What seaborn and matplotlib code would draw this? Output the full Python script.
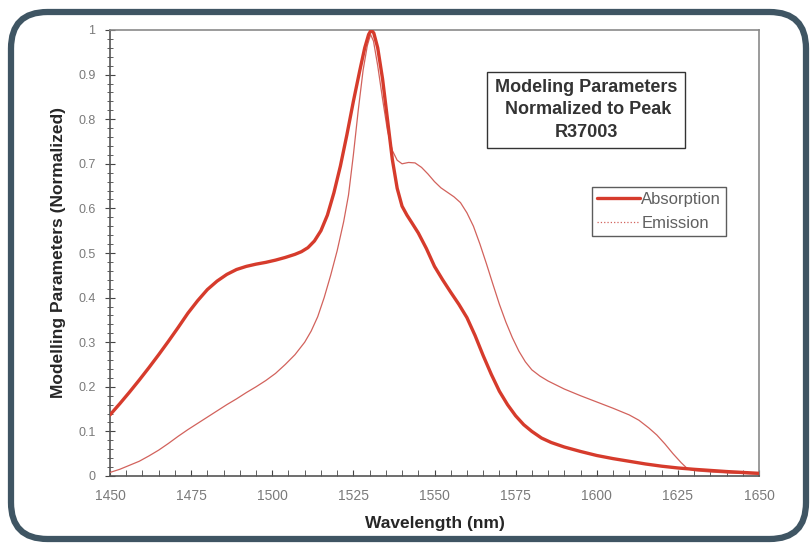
import matplotlib
matplotlib.use("Agg")
import matplotlib.pyplot as plt
from matplotlib.patches import FancyBboxPatch
from matplotlib.lines import Line2D
from matplotlib.ticker import MultipleLocator
import pandas as pd
import seaborn as sns

# absorption curve
abs_wl = [1450, 1453, 1456, 1459, 1462, 1465, 1468, 1471, 1474, 1477, 1480, 1483,
          1486, 1489, 1492, 1495, 1498, 1501, 1504, 1507, 1509, 1511, 1513, 1515,
          1517, 1519, 1521, 1523, 1525, 1527, 1528.5, 1529.7, 1530.5, 1531.3, 1532.5,
          1534, 1535.5, 1537, 1538.5, 1540, 1541.5, 1543, 1545, 1547.5, 1550, 1552.5,
          1555, 1557.5, 1560, 1562.5, 1565, 1567.5, 1570, 1572.5, 1575, 1577.5, 1580,
          1583, 1586, 1590, 1595, 1600, 1605, 1610, 1615, 1620, 1625, 1630, 1640, 1650]
abs_val = [0.137, 0.162, 0.188, 0.215, 0.243, 0.272, 0.302, 0.333, 0.365, 0.393, 0.418, 0.437,
           0.452, 0.463, 0.47, 0.475, 0.479, 0.484, 0.49, 0.497, 0.503, 0.512, 0.527, 0.55,
           0.585, 0.635, 0.695, 0.765, 0.84, 0.91, 0.96, 0.99, 1.0, 0.993, 0.96,
           0.89, 0.80, 0.71, 0.645, 0.605, 0.585, 0.568, 0.545, 0.51, 0.47, 0.44,
           0.412, 0.385, 0.355, 0.315, 0.27, 0.228, 0.19, 0.16, 0.135, 0.115, 0.1,
           0.085, 0.075, 0.065, 0.055, 0.046, 0.039, 0.033, 0.027, 0.022, 0.018, 0.015, 0.01, 0.006]

# emission curve
emi_wl = [1450, 1453, 1456, 1459, 1462, 1465, 1468, 1471, 1474, 1477, 1480, 1483,
          1486, 1489, 1492, 1495, 1498, 1501, 1504, 1507, 1510, 1512, 1514, 1516,
          1518, 1520, 1522, 1523.5, 1525, 1526.5, 1528, 1529.3, 1530.3, 1531.2, 1532.5,
          1534, 1535.5, 1537, 1538.5, 1540, 1542, 1544, 1546, 1548, 1550, 1552, 1554,
          1556, 1558, 1560, 1562, 1564, 1566, 1568, 1570, 1572, 1574, 1576, 1578, 1580,
          1582.5, 1585, 1590, 1595, 1600, 1605, 1610, 1613, 1616, 1618.5, 1621, 1623.5,
          1626, 1628, 1630, 1635, 1640, 1650]
emi_val = [0.008, 0.015, 0.024, 0.033, 0.045, 0.058, 0.073, 0.089, 0.104, 0.118, 0.132, 0.146,
           0.16, 0.173, 0.187, 0.2, 0.214, 0.23, 0.25, 0.272, 0.3, 0.325, 0.357, 0.4,
           0.45, 0.505, 0.57, 0.63, 0.72, 0.82, 0.91, 0.965, 0.99, 0.975, 0.92,
           0.845, 0.775, 0.73, 0.708, 0.70, 0.703, 0.702, 0.692, 0.677, 0.66, 0.646, 0.636,
           0.626, 0.613, 0.59, 0.56, 0.52, 0.476, 0.43, 0.385, 0.345, 0.31, 0.28, 0.256, 0.238,
           0.224, 0.213, 0.195, 0.18, 0.166, 0.152, 0.137, 0.125, 0.108, 0.092, 0.072, 0.05,
           0.03, 0.016, 0.012, 0.009, 0.007, 0.004]

x_ticks = [1450, 1475, 1500, 1525, 1550, 1575, 1600, 1625, 1650]
y_ticks = [0, 0.1, 0.2, 0.3, 0.4, 0.5, 0.6, 0.7, 0.8, 0.9, 1]

abs_color = "#d63b2c"
emi_color = "#d2625c"

sns.set_style("white")
plt.rcParams['font.family'] = ['Liberation Sans', 'DejaVu Sans']

fig = plt.figure(figsize=(8.1, 5.43), dpi=100)
ax = fig.add_axes([110/810, 1 - 476/543, (759 - 110)/810, (476 - 30)/543])

df_abs = pd.DataFrame({"wl": abs_wl, "val": abs_val})
df_emi = pd.DataFrame({"wl": emi_wl, "val": emi_val})

sns.lineplot(data=df_emi, x="wl", y="val", ax=ax, color=emi_color, linewidth=0.9, zorder=3)
sns.lineplot(data=df_abs, x="wl", y="val", ax=ax, color=abs_color, linewidth=2.4, zorder=4)

ax.set_xlim(1450, 1650)
ax.set_ylim(0, 1)
ax.set_xticks(x_ticks)
ax.set_yticks(y_ticks)
ax.set_yticklabels([f"{t:g}" for t in y_ticks])
ax.xaxis.set_minor_locator(MultipleLocator(5))
ax.yaxis.set_minor_locator(MultipleLocator(0.02))
ax.tick_params(axis="x", which="both", direction="in", bottom=True, length=4,
               color="#444444", labelsize=10, labelcolor="#7a7a7a", pad=9)
ax.tick_params(axis="y", which="major", direction="inout", left=True, length=7,
               color="#444444", labelsize=9, labelcolor="#7a7a7a", pad=7)
ax.tick_params(axis="y", which="minor", direction="inout", left=True, length=4,
               color="#444444")
for side in ["top", "right"]:
    ax.spines[side].set_color("#8a8a8a")
    ax.spines[side].set_linewidth(1.2)
for side in ["left", "bottom"]:
    ax.spines[side].set_color("#555555")
    ax.spines[side].set_linewidth(1.2)

ax.set_xlabel("Wavelength (nm)", fontsize=12.5, fontweight="bold", labelpad=10)
ax.set_ylabel("Modelling Parameters (Normalized)", fontsize=12.5, fontweight="bold", labelpad=9)

# legend
handles = [Line2D([], [], color=abs_color, linewidth=2.4),
           Line2D([], [], color=emi_color, linewidth=0.9, linestyle=":")]
leg = ax.legend(handles, ["Absorption", "Emission"],
                loc="upper left", bbox_to_anchor=((592 - 110)/649, 1 - (187 - 30)/446),
                frameon=True, fancybox=False, fontsize=12, handlelength=2.6,
                handletextpad=0.05, borderpad=0.3, labelspacing=0.55, borderaxespad=0)
leg.get_frame().set_edgecolor("#333333")
leg.get_frame().set_linewidth(1.0)
for t in leg.get_texts():
    t.set_color("#606060")

ax.text((586 - 110)/649, 1 - (110 - 30)/446, "Modeling Parameters\n Normalized to Peak\nR37003",
        transform=ax.transAxes, ha="center", va="center", fontsize=13,
        fontweight="bold", color="#333333", linespacing=1.4,
        bbox=dict(boxstyle="square,pad=0.42", facecolor="white", edgecolor="#333333", linewidth=1.0))

# rounded frame around the whole chart
frame = FancyBboxPatch((11/810, 4/543), 795/810, 527/543,
                       boxstyle="round,pad=0,rounding_size=0.045",
                       transform=fig.transFigure, facecolor="none",
                       edgecolor="#3f5563", linewidth=4.5, mutation_aspect=810/543)
fig.patches.append(frame)

fig.savefig("out.png", dpi=100)
